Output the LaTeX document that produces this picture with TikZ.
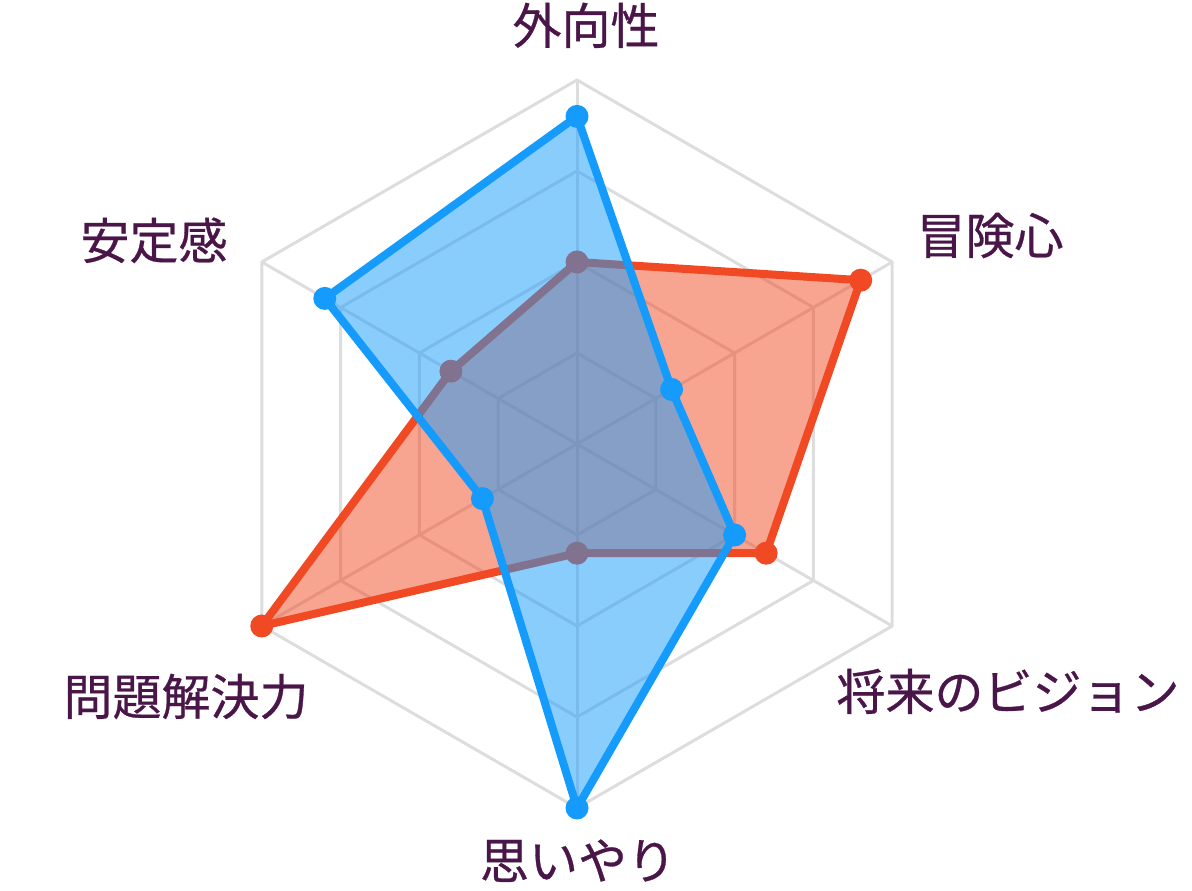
\documentclass[tikz,border=0pt]{standalone}
\usepackage{fontspec}
\newfontfamily\jpfont[FakeBold=0.6]{Noto Sans CJK JP}
\definecolor{gridc}{HTML}{DDDDDD}
\definecolor{redc}{HTML}{F04923}
\definecolor{bluec}{HTML}{149BFB}
\definecolor{labelc}{HTML}{4A1548}
\begin{document}
\begin{tikzpicture}[x=1pt,y=1pt,
  gridline/.style={draw=gridc,line width=3pt,line join=round},
  series/.style={line width=8pt,line join=round},
  lab/.style={inner sep=0pt,anchor=base,text=labelc,font=\jpfont\fontsize{49}{59}\selectfont}]
\useasboundingbox (0,0) rectangle (1192,891);
\begin{scope}[shift={(577,447)}]
  \coordinate (C) at (0,0);
  % grid
  \foreach \k in {1,2,3,4}{
    \draw[gridline] (90:\k*91) -- (30:\k*91) -- (-30:\k*91) -- (-90:\k*91) -- (-150:\k*91) -- (150:\k*91) -- cycle;
  }
  \foreach \a in {90,30,-30,-90,-150,150}{
    \draw[gridline] (C) -- (\a:364);
  }
  % red series
  \coordinate (r1) at (90:0.5*364);
  \coordinate (r2) at (30:0.9*364);
  \coordinate (r3) at (-30:0.6*364);
  \coordinate (r4) at (-90:0.3*364);
  \coordinate (r5) at (-150:1.0*364);
  \coordinate (r6) at (150:0.4*364);
  \fill[redc,opacity=0.5] (r1) -- (r2) -- (r3) -- (r4) -- (r5) -- (r6) -- cycle;
  \draw[series,redc] (r1) -- (r2) -- (r3) -- (r4) -- (r5) -- (r6) -- cycle;
  \foreach \p in {r1,r2,r3,r4,r5,r6}{\fill[redc] (\p) circle (11.5);}
  % blue series
  \coordinate (b1) at (90:0.9*364);
  \coordinate (b2) at (30:0.3*364);
  \coordinate (b3) at (-30:0.5*364);
  \coordinate (b4) at (-90:1.0*364);
  \coordinate (b5) at (-150:0.3*364);
  \coordinate (b6) at (150:0.8*364);
  \fill[bluec,opacity=0.5] (b1) -- (b2) -- (b3) -- (b4) -- (b5) -- (b6) -- cycle;
  \draw[series,bluec] (b1) -- (b2) -- (b3) -- (b4) -- (b5) -- (b6) -- cycle;
  \foreach \p in {b1,b2,b3,b4,b5,b6}{\fill[bluec] (\p) circle (11.5);}
\end{scope}
% labels
\node[lab] (l1) at (586,847) {外向性};
\node[lab] (l2) at (990,637) {冒険心};
\node[lab] (l3) at (1008,181) {将来のビジョン};
\node[lab] (l4) at (578,12) {思いやり};
\node[lab] (l5) at (186,176) {問題解決力};
\node[lab] (l6) at (154,632) {安定感};
\end{tikzpicture}
\end{document}
